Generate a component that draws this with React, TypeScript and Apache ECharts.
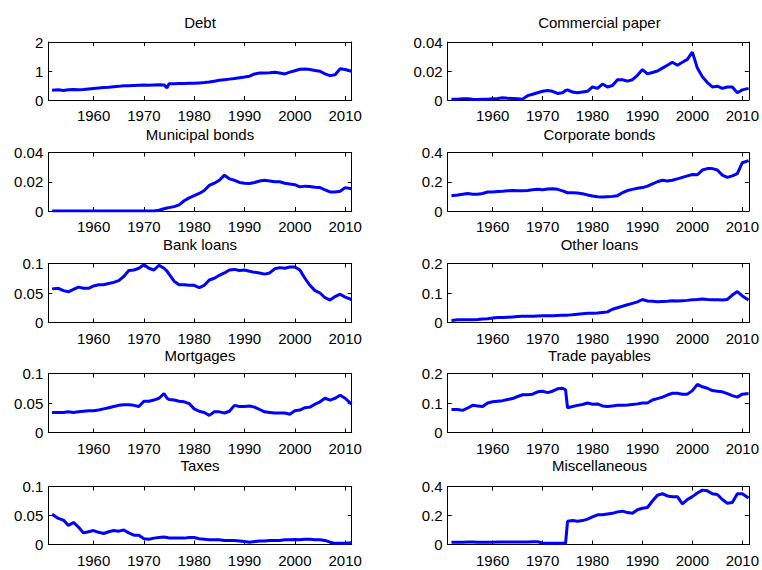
import React, { useEffect, useRef } from "react";
import * as echarts from "echarts";

// x positions (years); 1974.6 is an extra point for the mid-1970s breaks
const years = [
  1951.75, 1953, 1954, 1955, 1956, 1957, 1958, 1959, 1960, 1961, 1962, 1963, 1964, 1965, 1966, 1967, 1968, 1969,
  1970, 1971, 1972, 1973, 1974, 1974.6, 1975, 1976, 1977, 1978, 1979, 1980, 1981, 1982, 1983, 1984, 1985, 1986,
  1987, 1988, 1989, 1990, 1991, 1992, 1993, 1994, 1995, 1996, 1997, 1998, 1999, 2000, 2001, 2002, 2003, 2004,
  2005, 2006, 2007, 2008, 2009, 2010, 2011.25,
];

const xTickLabels = [1960, 1970, 1980, 1990, 2000, 2010];

const debt = [
  0.34, 0.35, 0.33, 0.35, 0.36, 0.35, 0.36, 0.38, 0.40, 0.41, 0.43, 0.44, 0.46, 0.47, 0.49, 0.49, 0.50, 0.51, 0.52,
  0.51, 0.52, 0.53, 0.52, 0.42, 0.56, 0.56, 0.57, 0.57, 0.58, 0.58, 0.59, 0.60, 0.62, 0.65, 0.68, 0.70, 0.72, 0.74,
  0.77, 0.79, 0.82, 0.90, 0.93, 0.93, 0.94, 0.96, 0.93, 0.90, 0.96, 1.01, 1.06, 1.07, 1.05, 1.02, 0.99, 0.90, 0.84,
  0.87, 1.08, 1.05, 0.99,
];

const commercialPaper = [
  0.0005, 0.0005, 0.0008, 0.0008, 0.0005, 0.0004, 0.0005, 0.0006, 0.0008, 0.001, 0.0015, 0.0012, 0.001, 0.0008,
  0.0006, 0.003, 0.004, 0.005, 0.006, 0.0065, 0.006, 0.0045, 0.005, 0.0065, 0.007, 0.0055, 0.005, 0.0055, 0.006,
  0.009, 0.008, 0.011, 0.009, 0.01, 0.014, 0.014, 0.013, 0.014, 0.017, 0.021, 0.018, 0.019, 0.02, 0.022, 0.024,
  0.026, 0.024, 0.026, 0.028, 0.033, 0.022, 0.016, 0.012, 0.009, 0.0095, 0.008, 0.009, 0.009, 0.005, 0.007, 0.008,
];

const municipalBonds = [
  0, 0, 0, 0, 0, 0, 0, 0, 0, 0, 0, 0, 0, 0, 0, 0, 0, 0, 0, 0, 0, 0.0005, 0.0015, 0.002, 0.0023, 0.003, 0.0042,
  0.007, 0.009, 0.0105, 0.012, 0.014, 0.0175, 0.019, 0.021, 0.0245, 0.022, 0.021, 0.0195, 0.019, 0.0188, 0.0195,
  0.0205, 0.021, 0.0205, 0.02, 0.02, 0.019, 0.0185, 0.018, 0.0165, 0.017, 0.0167, 0.0163, 0.016, 0.0145, 0.013,
  0.013, 0.0135, 0.016, 0.0152,
];

const corporateBonds = [
  0.105, 0.11, 0.115, 0.12, 0.115, 0.115, 0.12, 0.13, 0.13, 0.133, 0.135, 0.138, 0.14, 0.138, 0.138, 0.14, 0.145,
  0.148, 0.145, 0.15, 0.152, 0.148, 0.138, 0.13, 0.125, 0.125, 0.123, 0.118, 0.11, 0.103, 0.098, 0.095, 0.098, 0.1,
  0.105, 0.125, 0.14, 0.148, 0.155, 0.16, 0.17, 0.185, 0.2, 0.21, 0.205, 0.21, 0.22, 0.23, 0.24, 0.25, 0.248, 0.28,
  0.29, 0.29, 0.28, 0.245, 0.23, 0.24, 0.255, 0.33, 0.345,
];

const bankLoans = [
  0.057, 0.058, 0.054, 0.052, 0.056, 0.06, 0.058, 0.058, 0.062, 0.064, 0.064, 0.066, 0.068, 0.071, 0.078, 0.088,
  0.089, 0.092, 0.098, 0.092, 0.089, 0.097, 0.092, 0.087, 0.082, 0.07, 0.064, 0.064, 0.063, 0.063, 0.059, 0.063,
  0.072, 0.075, 0.08, 0.084, 0.089, 0.09, 0.088, 0.089, 0.087, 0.085, 0.084, 0.082, 0.084, 0.091, 0.093, 0.092,
  0.094, 0.094, 0.089, 0.075, 0.063, 0.054, 0.05, 0.042, 0.038, 0.044, 0.048, 0.043, 0.039,
];

const otherLoans = [
  0.007, 0.009, 0.009, 0.009, 0.009, 0.01, 0.012, 0.013, 0.015, 0.017, 0.017, 0.018, 0.019, 0.02, 0.021, 0.021,
  0.021, 0.022, 0.023, 0.023, 0.023, 0.024, 0.025, 0.025, 0.025, 0.026, 0.028, 0.03, 0.031, 0.031, 0.032, 0.034,
  0.036, 0.045, 0.05, 0.055, 0.06, 0.065, 0.07, 0.078, 0.073, 0.072, 0.07, 0.071, 0.072, 0.074, 0.073, 0.074, 0.075,
  0.077, 0.078, 0.08, 0.078, 0.077, 0.077, 0.076, 0.078, 0.093, 0.105, 0.09, 0.076,
];

const mortgages = [
  0.034, 0.034, 0.034, 0.035, 0.034, 0.035, 0.036, 0.037, 0.037, 0.038, 0.04, 0.042, 0.044, 0.046, 0.047, 0.047,
  0.046, 0.044, 0.053, 0.053, 0.055, 0.058, 0.066, 0.058, 0.056, 0.055, 0.053, 0.052, 0.049, 0.040, 0.036, 0.034,
  0.029, 0.035, 0.035, 0.033, 0.036, 0.046, 0.044, 0.044, 0.045, 0.043, 0.039, 0.035, 0.034, 0.033, 0.033, 0.033,
  0.031, 0.037, 0.038, 0.042, 0.043, 0.048, 0.052, 0.058, 0.055, 0.058, 0.063, 0.058, 0.048,
];

const tradePayables = [
  0.078, 0.078, 0.075, 0.083, 0.092, 0.09, 0.088, 0.1, 0.104, 0.106, 0.108, 0.112, 0.115, 0.122, 0.128, 0.128, 0.13,
  0.138, 0.14, 0.135, 0.14, 0.148, 0.15, 0.145, 0.084, 0.088, 0.092, 0.095, 0.1, 0.096, 0.097, 0.09, 0.088, 0.09,
  0.092, 0.092, 0.093, 0.095, 0.097, 0.1, 0.1, 0.11, 0.115, 0.12, 0.127, 0.133, 0.133, 0.13, 0.13, 0.142, 0.163,
  0.155, 0.15, 0.142, 0.14, 0.138, 0.132, 0.125, 0.12, 0.13, 0.132,
];

const taxes = [
  0.052, 0.045, 0.042, 0.033, 0.038, 0.03, 0.02, 0.022, 0.024, 0.021, 0.019, 0.022, 0.024, 0.023, 0.025, 0.02,
  0.016, 0.016, 0.01, 0.009, 0.011, 0.012, 0.013, 0.012, 0.011, 0.011, 0.011, 0.011, 0.012, 0.012, 0.01, 0.009,
  0.008, 0.008, 0.008, 0.007, 0.007, 0.007, 0.006, 0.005, 0.004, 0.005, 0.006, 0.006, 0.007, 0.007, 0.007, 0.008,
  0.008, 0.0085, 0.008, 0.009, 0.009, 0.008, 0.008, 0.007, 0.004, 0.002, 0.002, 0.002, 0.003,
];

const miscellaneous = [
  0.015, 0.016, 0.016, 0.017, 0.017, 0.016, 0.016, 0.016, 0.016, 0.017, 0.017, 0.017, 0.017, 0.018, 0.018, 0.018,
  0.019, 0.019, 0.01, 0.008, 0.008, 0.008, 0.008, 0.008, 0.16, 0.165, 0.16, 0.165, 0.175, 0.19, 0.205, 0.205, 0.21,
  0.215, 0.225, 0.23, 0.22, 0.215, 0.24, 0.25, 0.255, 0.3, 0.34, 0.35, 0.335, 0.33, 0.33, 0.28, 0.31, 0.33, 0.355,
  0.375, 0.37, 0.35, 0.345, 0.31, 0.285, 0.29, 0.35, 0.35, 0.32,
];

const panelTitles = [
  "Debt", "Commercial paper", "Municipal bonds", "Corporate bonds", "Bank loans",
  "Other loans", "Mortgages", "Trade payables", "Taxes", "Miscellaneous",
];
const panelValues = [
  debt, commercialPaper, municipalBonds, corporateBonds, bankLoans,
  otherLoans, mortgages, tradePayables, taxes, miscellaneous,
];
const yMax = [2, 0.04, 0.04, 0.4, 0.1, 0.2, 0.1, 0.2, 0.1, 0.4];
const yStep = [1, 0.02, 0.02, 0.2, 0.05, 0.1, 0.05, 0.1, 0.05, 0.2];

const X_MIN = 1951;
const X_MAX = 2011.3;
const FONT = "'Liberation Sans', Arial, Helvetica, sans-serif";

const rowTop = [42, 152.5, 263.5, 373.5, 486.5];
const rowHeight = [58, 58.5, 59, 59, 58];
const rowTitleY = [22.5, 134, 244.5, 355.5, 465.5];
const colLeft = [48.3, 447.7];
const colWidth = 303.4;

export default function App() {
  const ref = useRef<HTMLDivElement>(null);

  useEffect(() => {
    if (!ref.current) return;
    const chart = echarts.init(ref.current, null, { renderer: "svg" });

    const grids: any[] = [];
    const xAxes: any[] = [];
    const yAxes: any[] = [];
    const series: any[] = [];
    const graphics: any[] = [];

    const tickStyle = { inside: true, length: 4, lineStyle: { color: "#000", width: 1 } };
    const lineStyle = { onZero: false, lineStyle: { color: "#000", width: 1 } };

    panelTitles.forEach((title, i) => {
      const row = Math.floor(i / 2);
      const col = i % 2;
      grids.push({
        left: colLeft[col],
        top: rowTop[row],
        width: colWidth,
        height: rowHeight[row],
        containLabel: false,
      });
      const base = {
        type: "value",
        gridIndex: i,
        min: X_MIN,
        max: X_MAX,
        splitLine: { show: false },
        axisLine: lineStyle,
      };
      xAxes.push({
        ...base,
        position: "bottom",
        axisTick: { ...tickStyle, customValues: xTickLabels },
        axisLabel: {
          customValues: xTickLabels,
          color: "#000",
          fontSize: 15,
          fontFamily: FONT,
          margin: 8,
          formatter: (v: number) => String(v),
        },
      });
      xAxes.push({
        ...base,
        position: "top",
        axisTick: { ...tickStyle, customValues: xTickLabels },
        axisLabel: { show: false },
      });
      const ybase = {
        type: "value",
        gridIndex: i,
        min: 0,
        max: yMax[i],
        interval: yStep[i],
        splitLine: { show: false },
        axisLine: lineStyle,
        axisTick: tickStyle,
      };
      yAxes.push({
        ...ybase,
        position: "left",
        axisLabel: { color: "#000", fontSize: 15, fontFamily: FONT, margin: 5 },
      });
      yAxes.push({ ...ybase, position: "right", axisLabel: { show: false } });

      series.push({
        type: "line",
        xAxisIndex: 2 * i,
        yAxisIndex: 2 * i,
        showSymbol: false,
        symbol: "none",
        data: years.map((yr, k) => [yr, panelValues[i][k]]),
        lineStyle: { color: "#0000ff", width: 3 },
        itemStyle: { color: "#0000ff" },
      });

      graphics.push({
        type: "text",
        x: colLeft[col] + colWidth / 2,
        y: rowTitleY[row],
        style: {
          text: title,
          fill: "#000",
          font: `15px ${FONT}`,
          align: "center",
          verticalAlign: "middle",
        },
      });
    });

    chart.setOption({
      animation: false,
      backgroundColor: "#fff",
      grid: grids,
      xAxis: xAxes,
      yAxis: yAxes,
      series,
      graphic: graphics,
    });

    return () => chart.dispose();
  }, []);

  return (
    <div
      ref={ref}
      style={{ position: "fixed", left: 0, top: 0, width: 762, height: 570, background: "#fff" }}
    />
  );
}
